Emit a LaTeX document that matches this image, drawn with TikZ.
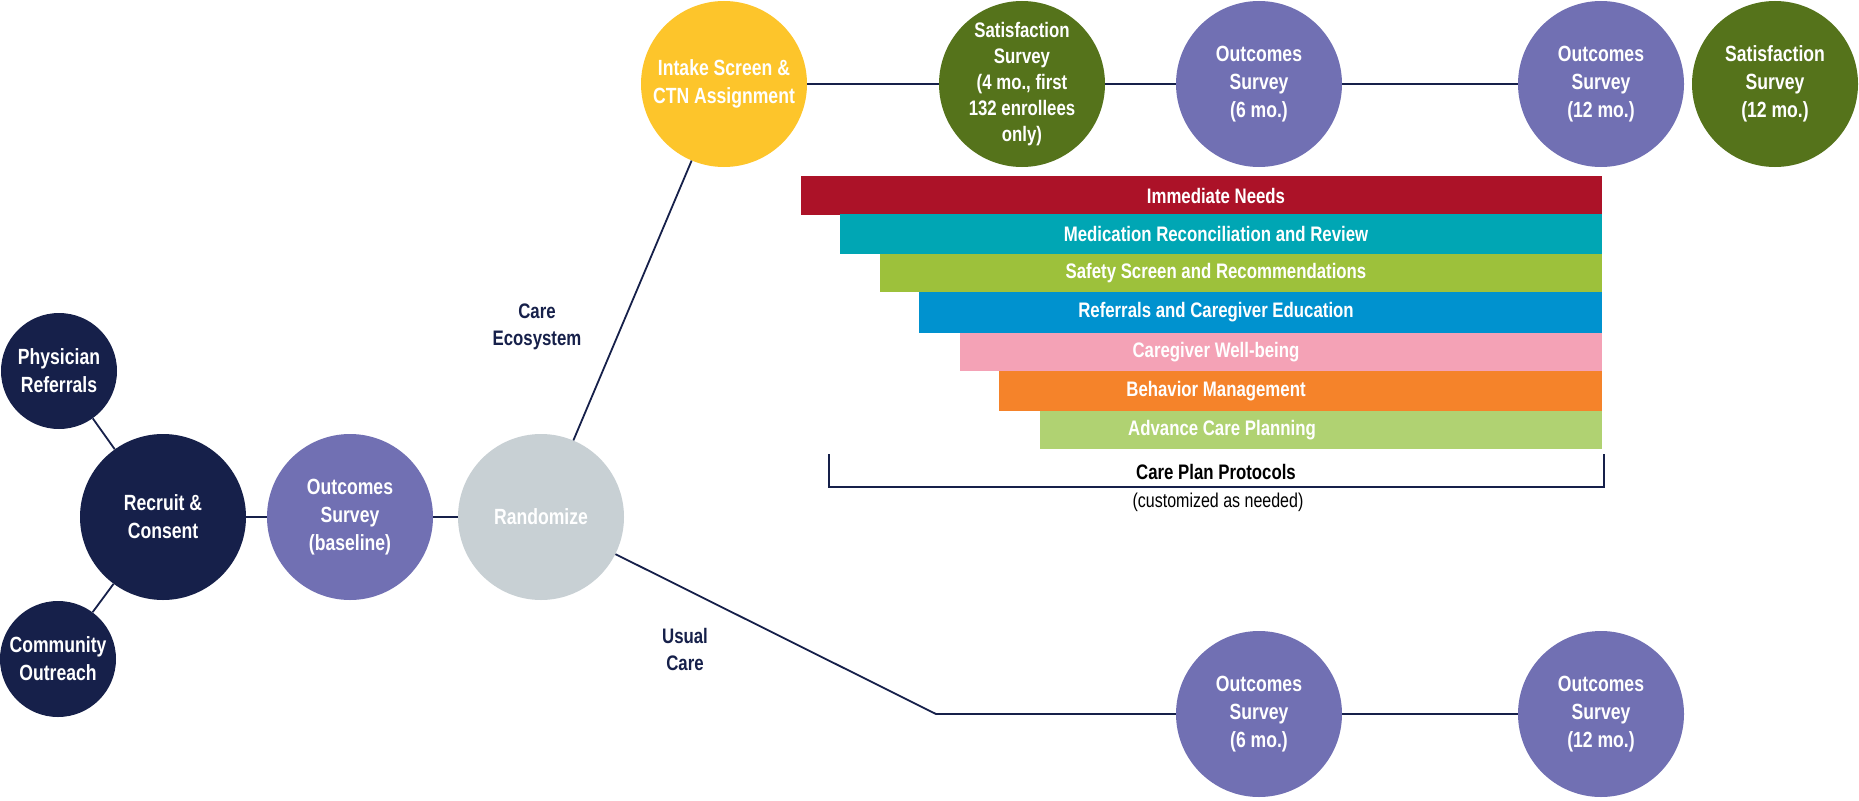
\documentclass[tikz,border=0pt]{standalone}
\usepackage{fontspec}
\setmainfont{Liberation Sans}[FakeStretch=0.8]
\begin{document}
\definecolor{navy}{HTML}{16204A}
\definecolor{purp}{HTML}{7170B3}
\definecolor{gry}{HTML}{C8D0D4}
\definecolor{yel}{HTML}{FDC52B}
\definecolor{grn}{HTML}{55731B}
\definecolor{cA}{HTML}{AC1228}
\definecolor{cB}{HTML}{00A6B4}
\definecolor{cC}{HTML}{9DC13B}
\definecolor{cD}{HTML}{0092CF}
\definecolor{cE}{HTML}{F4A2B6}
\definecolor{cF}{HTML}{F5832A}
\definecolor{cG}{HTML}{B0D272}
\begin{tikzpicture}[x=1pt,y=-1pt,
  ball/.style={circle,inner sep=0pt,minimum size=166pt,text=white,align=center,
    font=\fontsize{22}{28}\selectfont\bfseries},
  small/.style={ball,minimum size=116pt},
  conn/.style={navy,line width=1.8pt},
  bar/.style={anchor=north west,inner sep=0pt,minimum height=39pt,text=white,
    font=\fontsize{21}{25}\selectfont\bfseries},
  lab/.style={text=navy,align=center,font=\fontsize{21}{27}\selectfont\bfseries}]
\useasboundingbox (0,0) rectangle (1859,800);
% left
\node[small,fill=navy] (phys) at (59,371) {Physician\\Referrals};
\node[small,fill=navy] (comm) at (58,659) {Community\\Outreach};
\node[ball,fill=navy] (rec) at (163,517) {Recruit \&\\Consent};
\node[ball,fill=purp] (base) at (350,517) {Outcomes\\Survey\\(baseline)};
\node[ball,fill=gry] (rand) at (541,517) {Randomize};
% top row
\node[ball,fill=yel] (intake) at (724,84) {Intake Screen \&\\CTN Assignment};
\node[ball,fill=grn,font=\fontsize{21}{26}\selectfont\bfseries] (sat4) at (1022,84) {Satisfaction\\Survey\\(4 mo., first\\132 enrollees\\only)};
\node[ball,fill=purp] (o6) at (1259,84) {Outcomes\\Survey\\(6 mo.)};
\node[ball,fill=purp] (o12) at (1601,84) {Outcomes\\Survey\\(12 mo.)};
\node[ball,fill=grn] (s12) at (1775,84) {Satisfaction\\Survey\\(12 mo.)};
% bottom row
\coordinate (uc) at (936,714);
\node[ball,fill=purp] (u6) at (1259,714) {Outcomes\\Survey\\(6 mo.)};
\node[ball,fill=purp] (u12) at (1601,714) {Outcomes\\Survey\\(12 mo.)};
% labels
\node[lab] (ce) at (537,327) {Care\\Ecosystem};
\node[lab] (uca) at (685,649) {Usual\\Care};
% connectors
\draw[conn] (phys) -- (rec);
\draw[conn] (comm) -- (rec);
\draw[conn] (rec) -- (base);
\draw[conn] (base) -- (rand);
\draw[conn] (rand) -- (intake);
\draw[conn] (intake) -- (sat4);
\draw[conn] (sat4) -- (o6);
\draw[conn] (o6) -- (o12);
\draw[conn] (rand) -- (uc) -- (u6);
\draw[conn] (u6) -- (u12);
% bars
\node[bar,fill=cA,minimum width=801pt] (b1) at (801,176) {\hspace*{0pt}};
\node[font=\fontsize{21}{25}\selectfont\bfseries,text=white] at (1216,195.5) {Immediate Needs};
\fill[cB] (840,214) rectangle (1602,254);
\node[font=\fontsize{21}{25}\selectfont\bfseries,text=white] (b2) at (1216,234) {Medication Reconciliation and Review};
\fill[cC] (880,254) rectangle (1602,292);
\node[font=\fontsize{21}{25}\selectfont\bfseries,text=white] (b3) at (1216,273) {Safety Screen and Recommendations};
\fill[cD] (919,292) rectangle (1602,333);
\node[font=\fontsize{21}{25}\selectfont\bfseries,text=white] (b4) at (1216,312) {Referrals and Caregiver Education};
\fill[cE] (960,333) rectangle (1602,371);
\node[font=\fontsize{21}{25}\selectfont\bfseries,text=white] (b5) at (1216,352) {Caregiver Well-being};
\fill[cF] (999,371) rectangle (1602,411);
\node[font=\fontsize{21}{25}\selectfont\bfseries,text=white] (b6) at (1216,391) {Behavior Management};
\fill[cG] (1040,411) rectangle (1602,449);
\node[font=\fontsize{21}{25}\selectfont\bfseries,text=white] (b7) at (1222,430) {Advance Care Planning};
% bracket
\draw[navy,line width=1.8pt] (829,454) -- (829,487) -- (1604,487) -- (1604,454);
\node[font=\fontsize{21}{25}\selectfont\bfseries,text=black] (cpp) at (1216,472) {Care Plan Protocols};
\node[font=\fontsize{20}{25}\selectfont,text=black] (cust) at (1218,502) {(customized as needed)};
\end{tikzpicture}
\end{document}
